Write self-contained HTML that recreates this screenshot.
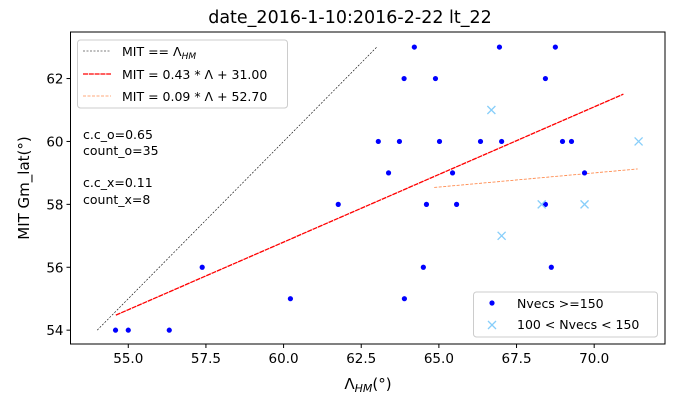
<!DOCTYPE html>
<html><head><meta charset="utf-8"><style>
body{margin:0;background:#fff;font-family:"Liberation Sans","DejaVu Sans",sans-serif}
svg text{font-family:"DejaVu Sans","Liberation Sans",sans-serif}
</style></head><body>
<svg id="c" width="700" height="400" xmlns="http://www.w3.org/2000/svg"></svg>
<script>
const xTicks=[55.0,57.5,60.0,62.5,65.0,67.5,70.0];
const yTicks=[54,56,58,60,62];
const dotX=[54.59,55.0,56.32,57.38,60.22,61.76,63.05,64.21,66.95,68.75,63.88,64.89,68.43,63.73,65.02,66.34,67.02,68.98,69.27,63.38,65.44,69.69,64.60,65.57,68.43,64.50,68.62,63.89];
const dotY=[54,54,54,56,55,58,60,63,63,63,62,62,62,60,60,60,60,60,60,59,59,59,58,58,58,56,56,55];
const crossX=[66.69,71.43,68.31,69.69,67.02];
const crossY=[61,60,58,58,57];
const fitO=[0.43,31.0], fitX=[0.09,52.70];
const fitORange=[54.6,70.94], fitXRange=[64.85,71.4], idRange=[54,63];
const L=70.5,R=665,T=32,B=344, xmin=53.14,xmax=72.28,ymin=53.56,ymax=63.48;
const sx=v=>L+(v-xmin)/(xmax-xmin)*(R-L), sy=v=>B-(v-ymin)/(ymax-ymin)*(B-T);
const svg=document.getElementById('c');const NS='http://www.w3.org/2000/svg';
function mk(t,a,txt){const e=document.createElementNS(NS,t);for(const k in a)e.setAttribute(k,a[k]);if(txt!==undefined)e.textContent=txt;svg.appendChild(e);return e;}
let e;
e=mk('text',{x:350,y:23,'text-anchor':'middle','font-size':17.5},'date_2016-1-10:2016-2-22  lt_22');


function line(r,m,b,st,dash,w,name){e=mk('line',{x1:sx(r[0]),y1:sy(m*r[0]+b),x2:sx(r[1]),y2:sy(m*r[1]+b),stroke:st,'stroke-width':w,'stroke-dasharray':dash});

}
line(idRange,1,0,'#000','2,1.5',0.6,'identity-line');
line(fitORange,fitO[0],fitO[1],'#f00','5,0.8',1.3,'fit-line-o');
line(fitXRange,fitX[0],fitX[1],'#ff8c50','3,1.5',0.9,'fit-line-x');
dotX.forEach((v,i)=>{e=mk('circle',{cx:sx(v),cy:sy(dotY[i]),r:2.6,fill:'#0000ff'});

});
crossX.forEach((v,i)=>{const cx=sx(v),cy=sy(crossY[i]);e=mk('path',{d:`M${cx-4} ${cy-4}L${cx+4} ${cy+4}M${cx-4} ${cy+4}L${cx+4} ${cy-4}`,stroke:'#87cefa','stroke-width':1.3,fill:'none'});

});
e=mk('rect',{x:L,y:T,width:R-L,height:B-T,fill:'none',stroke:'#000','stroke-width':1});


xTicks.forEach(v=>{mk('line',{x1:sx(v),y1:B,x2:sx(v),y2:B+4,stroke:'#000'});e=mk('text',{x:sx(v),y:B+19,'text-anchor':'middle','font-size':13.5},v.toFixed(1));

});
yTicks.forEach(v=>{mk('line',{x1:L-4,y1:sy(v),x2:L,y2:sy(v),stroke:'#000'});e=mk('text',{x:L-7,y:sy(v)+5,'text-anchor':'end','font-size':13.5},v);

});
e=mk('text',{x:368,y:389,'text-anchor':'middle','font-size':15});e.innerHTML='Λ<tspan font-style="italic" font-size="11" dy="3">HM</tspan><tspan dy="-3">(°)</tspan>';


e=mk('text',{x:29,y:188,'text-anchor':'middle','font-size':15,transform:'rotate(-90 29 188)'},'MIT Gm_lat(°)');


[['c.c_o=0.65',139],['count_o=35',155],['c.c_x=0.11',187],['count_x=8',204]].forEach(s=>{e=mk('text',{x:83,y:s[1],'font-size':12.5},s[0]);

});
e=mk('rect',{x:77.5,y:40,width:210,height:68,rx:3,fill:'#fff',stroke:'#ccc'});


[['#000','2,1.5',0.6,52,'MIT == Λ<tspan font-style="italic" font-size="9" dy="3">HM</tspan>'],['#f00','5,0.8',1.2,75,'MIT = 0.43 * Λ + 31.00'],['#ff8c50','3,1.5',0.8,97,'MIT = 0.09 * Λ + 52.70']].forEach(l=>{
mk('line',{x1:83,y1:l[3]-1,x2:111,y2:l[3]-1,stroke:l[0],'stroke-dasharray':l[1],'stroke-width':l[2]});
e=mk('text',{x:122,y:l[3]+4,'font-size':12.5});e.innerHTML=l[4];

});
e=mk('rect',{x:473.5,y:292,width:184,height:45,rx:3,fill:'#fff',stroke:'#ccc'});


mk('circle',{cx:492,cy:303,r:2.6,fill:'#0000ff'});
mk('path',{d:'M488 321L496 329M488 329L496 321',stroke:'#87cefa','stroke-width':1.3});
e=mk('text',{x:517,y:308,'font-size':12.5},'Nvecs >=150');


e=mk('text',{x:517,y:329,'font-size':12.5},'100 < Nvecs < 150');


</script>
</body></html>
